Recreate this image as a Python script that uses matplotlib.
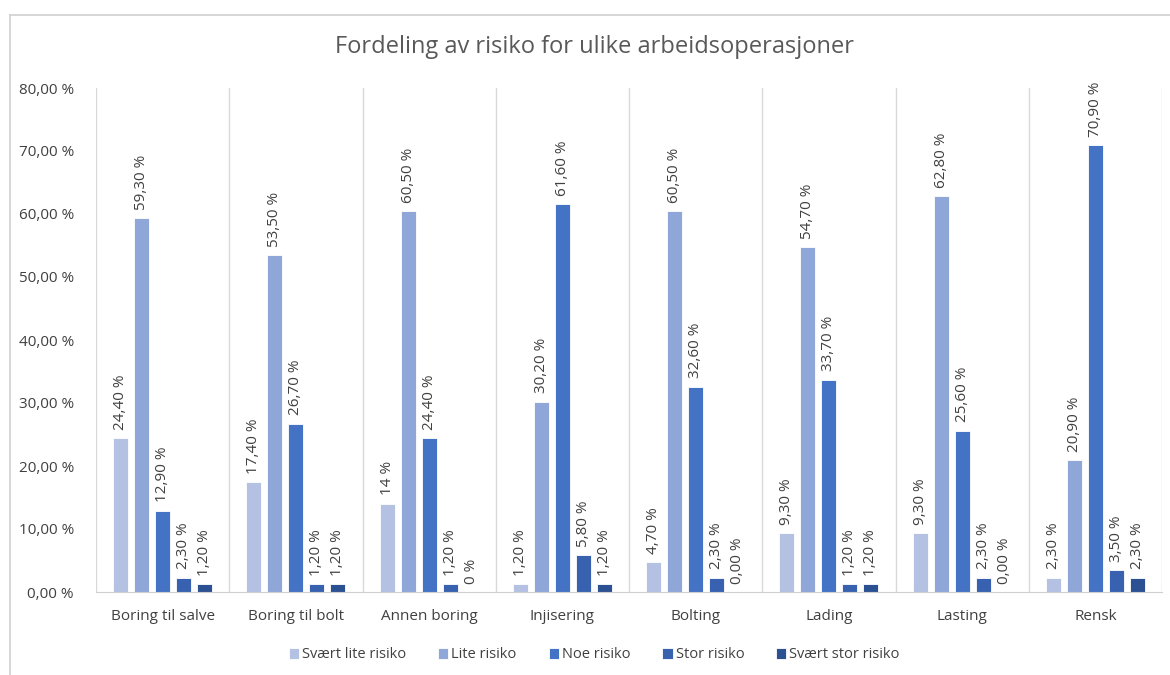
import matplotlib.pyplot as plt
import numpy as np
from matplotlib.lines import Line2D
from matplotlib.ticker import FuncFormatter

plt.rcParams['font.family'] = ['Open Sans', 'DejaVu Sans']

kategorier = ["Boring til salve", "Boring til bolt", "Annen boring", "Injisering",
              "Bolting", "Lading", "Lasting", "Rensk"]
serier = ["Svært lite risiko", "Lite risiko", "Noe risiko", "Stor risiko", "Svært stor risiko"]

svaert_lite = [24.4, 17.4, 14.0, 1.2, 4.7, 9.3, 9.3, 2.3]
lite = [59.3, 53.5, 60.5, 30.2, 60.5, 54.7, 62.8, 20.9]
noe = [12.9, 26.7, 24.4, 61.6, 32.6, 33.7, 25.6, 70.9]
stor = [2.3, 1.2, 1.2, 5.8, 2.3, 1.2, 2.3, 3.5]
svaert_stor = [1.2, 1.2, 0.0, 1.2, 0.0, 1.2, 0.0, 2.3]

verdier = [svaert_lite, lite, noe, stor, svaert_stor]
farger = ["#b4c1e2", "#8fa6d8", "#4472c4", "#3862b0", "#2c5193"]

# noen etiketter er formatert annerledes i kildedataene
spesial = {(0, 2): "14 %", (4, 2): "0 %"}


def fmt(v):
    return f"{v:.2f}".replace(".", ",") + " %"


fig = plt.figure(figsize=(11.7, 6.75), dpi=100)
ax = fig.add_axes([96 / 1170, 1 - 592 / 675, (1162 - 96) / 1170, (592 - 88) / 675])

x = np.arange(len(kategorier))
steg = 0.1575
bredde = 0.112
tekstfarge = "#404040"

for i, (navn, data, farge) in enumerate(zip(serier, verdier, farger)):
    pos = x + (i - 2) * steg
    ax.bar(pos, data, width=bredde, color=farge, edgecolor="white", linewidth=0.6, label=navn)
    for j, (p, v) in enumerate(zip(pos, data)):
        tekst = spesial.get((i, j), fmt(v))
        ax.annotate(tekst, (p, v), xytext=(0, 6), textcoords="offset points",
                    rotation=90, ha="center", va="bottom", fontsize=11, color=tekstfarge)

ax.set_xlim(-0.5, len(kategorier) - 0.5)
ax.set_ylim(0, 80)
ax.set_yticks(np.arange(0, 81, 10))
ax.yaxis.set_major_formatter(FuncFormatter(lambda v, _: fmt(v)))
ax.set_xticks(x)
ax.set_xticklabels(kategorier)
ax.tick_params(axis="both", length=0, labelsize=11, colors=tekstfarge)
ax.tick_params(axis="x", pad=12)
ax.tick_params(axis="y", pad=16)

for s in ["top", "right", "left"]:
    ax.spines[s].set_visible(False)
ax.spines["bottom"].set_color("#d0d0d0")

# skillelinjer mellom kategoriene
for b in np.arange(-0.5, len(kategorier), 1.0):
    ax.axvline(b, color="#d9d9d9", linewidth=1, zorder=0)

fig.text(0.508, 1 - 47 / 675, "Fordeling av risiko for ulike arbeidsoperasjoner",
         ha="center", va="center", fontsize=17, color="#595959")

leg = fig.legend(loc="center", bbox_to_anchor=(0.508, 1 - 655 / 675), ncol=5, frameon=False,
                 fontsize=10.5, handlelength=0.7, handleheight=0.7, handletextpad=0.2,
                 columnspacing=2.2)
for t in leg.get_texts():
    t.set_color(tekstfarge)

# ytre ramme
fig.add_artist(Line2D([10 / 1170, 10 / 1170], [0, 1 - 15 / 675], transform=fig.transFigure,
                      color="#d0d0d0", linewidth=1.2))
fig.add_artist(Line2D([10 / 1170, 1], [1 - 15 / 675, 1 - 15 / 675], transform=fig.transFigure,
                      color="#d0d0d0", linewidth=1.2))

fig.savefig("out.png", dpi=100)
